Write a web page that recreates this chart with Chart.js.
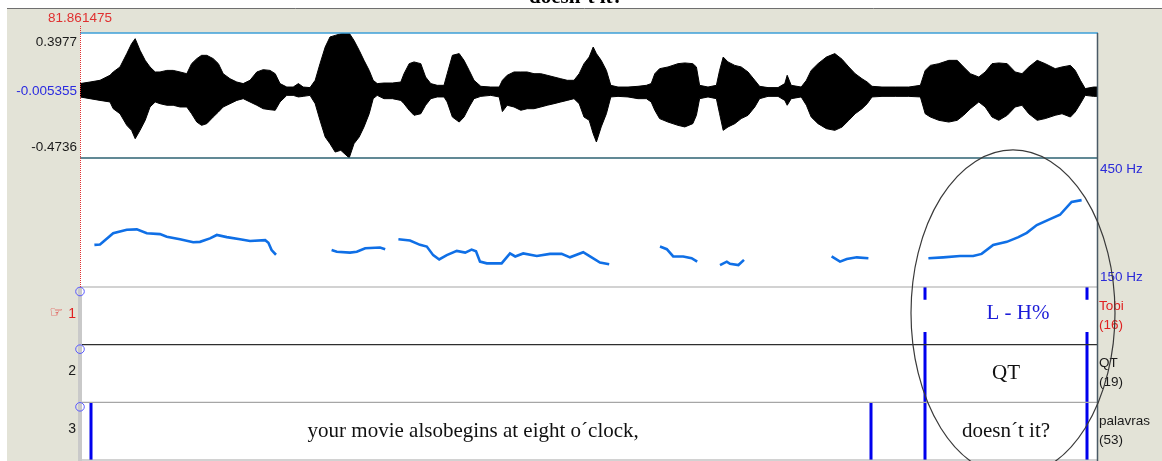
<!DOCTYPE html>
<html lang="en">
<head>
  <meta charset="UTF-8" />
  <title>doesn´t it?</title>
  <script src="https://cdn.jsdelivr.net/npm/chart.js"></script>
  <style>
    * { padding: 0; margin: 0; }
    html, body { background: #fff; width: 1162px; height: 461px; overflow: hidden; }
    #box { position: relative; width: 1162px; height: 461px; }
  </style>
</head>
<body>
<div id="box"><canvas id="praatView" width="1162" height="461"></canvas></div>
<script>
  // time window shown (s) and the cursor at its left edge
  const viewEnd = 2.545;
  const cursorLabel = '81.861475';

  // waveform amplitude range and value at cursor
  const waveMax = 0.3977;
  const waveMin = -0.4736;
  const waveCursor = -0.005355;

  // waveform envelope (time in s, upper and lower amplitude)
  const waveTime = [0.000, 0.025, 0.050, 0.075, 0.083, 0.100, 0.117, 0.129, 0.138, 0.150, 0.163, 0.175, 0.188, 0.200, 0.217, 0.233, 0.250, 0.267, 0.279, 0.292,
    0.304, 0.317, 0.333, 0.346, 0.358, 0.375, 0.392, 0.408, 0.425, 0.442, 0.458, 0.475, 0.488, 0.500, 0.517, 0.533, 0.546, 0.558, 0.575, 0.588,
    0.600, 0.613, 0.625, 0.638, 0.652, 0.673, 0.685, 0.698, 0.710, 0.723, 0.733, 0.743, 0.760, 0.781, 0.802, 0.810, 0.823, 0.835, 0.852, 0.864,
    0.877, 0.893, 0.910, 0.918, 0.931, 0.948, 0.960, 0.973, 0.985, 1.002, 1.027, 1.048, 1.056, 1.068, 1.085, 1.102, 1.118, 1.135, 1.152, 1.168,
    1.185, 1.202, 1.218, 1.235, 1.248, 1.260, 1.273, 1.283, 1.291, 1.303, 1.316, 1.327, 1.345, 1.370, 1.395, 1.416, 1.428, 1.437, 1.449, 1.470,
    1.495, 1.512, 1.532, 1.541, 1.549, 1.570, 1.591, 1.599, 1.608, 1.620, 1.637, 1.653, 1.670, 1.687, 1.699, 1.720, 1.745, 1.762, 1.768, 1.778,
    1.803, 1.816, 1.828, 1.845, 1.866, 1.887, 1.905, 1.922, 1.938, 1.955, 1.968, 1.980, 2.005, 2.038, 2.072, 2.101, 2.113, 2.126, 2.147, 2.172,
    2.193, 2.209, 2.226, 2.247, 2.263, 2.280, 2.297, 2.318, 2.338, 2.355, 2.372, 2.393, 2.413, 2.438, 2.455, 2.476, 2.488, 2.501, 2.513, 2.534, 2.545];
  const waveTop = [0.045, 0.056, 0.068, 0.103, 0.126, 0.161, 0.254, 0.323, 0.358, 0.277, 0.207, 0.161, 0.126, 0.126, 0.137, 0.137, 0.126, 0.114, 0.184, 0.219,
    0.242, 0.242, 0.219, 0.184, 0.114, 0.079, 0.056, 0.045, 0.068, 0.126, 0.142, 0.137, 0.114, 0.045, 0.021, 0.021, 0.045, 0.021, 0.017, 0.068,
    0.184, 0.300, 0.370, 0.381, 0.393, 0.397, 0.346, 0.277, 0.207, 0.137, 0.068, 0.045, 0.049, 0.049, 0.056, 0.114, 0.184, 0.196, 0.184, 0.091,
    0.045, 0.033, 0.033, 0.114, 0.242, 0.254, 0.207, 0.137, 0.068, 0.026, 0.021, 0.021, 0.068, 0.103, 0.126, 0.126, 0.126, 0.114, 0.114, 0.103,
    0.091, 0.079, 0.068, 0.068, 0.114, 0.184, 0.230, 0.300, 0.254, 0.207, 0.137, 0.033, 0.021, 0.021, 0.026, 0.033, 0.045, 0.114, 0.149, 0.161,
    0.184, 0.189, 0.184, 0.161, 0.033, 0.021, 0.033, 0.137, 0.230, 0.196, 0.172, 0.161, 0.126, 0.068, 0.026, 0.017, 0.017, 0.045, 0.103, 0.033,
    0.021, 0.068, 0.137, 0.184, 0.230, 0.254, 0.215, 0.161, 0.114, 0.079, 0.056, 0.026, 0.021, 0.021, 0.021, 0.033, 0.137, 0.172, 0.184, 0.207,
    0.207, 0.161, 0.114, 0.091, 0.126, 0.184, 0.189, 0.184, 0.126, 0.114, 0.161, 0.207, 0.184, 0.149, 0.161, 0.172, 0.137, 0.068, 0.010, 0.021, 0.021];
  const waveBottom = [-0.048, -0.060, -0.072, -0.083, -0.130, -0.165, -0.246, -0.281, -0.339, -0.281, -0.211, -0.118, -0.083, -0.095, -0.106, -0.106, -0.118, -0.118, -0.165, -0.223,
    -0.246, -0.234, -0.188, -0.153, -0.118, -0.095, -0.072, -0.060, -0.083, -0.106, -0.130, -0.137, -0.141, -0.083, -0.037, -0.037, -0.048, -0.044, -0.037, -0.095,
    -0.211, -0.327, -0.374, -0.432, -0.420, -0.473, -0.374, -0.327, -0.257, -0.165, -0.060, -0.037, -0.060, -0.060, -0.072, -0.095, -0.141, -0.176, -0.165, -0.106,
    -0.060, -0.048, -0.048, -0.083, -0.188, -0.223, -0.188, -0.118, -0.060, -0.044, -0.037, -0.048, -0.150, -0.106, -0.118, -0.141, -0.130, -0.130, -0.118, -0.106,
    -0.095, -0.083, -0.072, -0.060, -0.095, -0.188, -0.211, -0.304, -0.362, -0.257, -0.165, -0.048, -0.044, -0.048, -0.060, -0.060, -0.083, -0.141, -0.199, -0.223,
    -0.246, -0.257, -0.234, -0.176, -0.060, -0.048, -0.060, -0.165, -0.281, -0.257, -0.234, -0.199, -0.176, -0.118, -0.060, -0.044, -0.044, -0.072, -0.106, -0.060,
    -0.048, -0.106, -0.188, -0.234, -0.269, -0.281, -0.258, -0.211, -0.165, -0.130, -0.095, -0.048, -0.044, -0.044, -0.044, -0.048, -0.165, -0.188, -0.211, -0.223,
    -0.211, -0.176, -0.130, -0.083, -0.118, -0.188, -0.211, -0.176, -0.118, -0.106, -0.165, -0.211, -0.199, -0.176, -0.165, -0.188, -0.153, -0.095, -0.037, -0.044, -0.044];

  // pitch range (Hz) and contour, null = unvoiced gap
  const pitchMin = 150;
  const pitchMax = 450;
  const pitchTime = [0.036, 0.050, 0.083, 0.117, 0.142, 0.167, 0.200, 0.217, 0.250, 0.283, 0.300, 0.325, 0.342, 0.367, 0.400, 0.425, 0.463, 0.471, 0.479, 0.490, 0.560,
    0.629, 0.642, 0.675, 0.692, 0.713, 0.750, 0.763, 0.780,
    0.796, 0.825, 0.850, 0.867, 0.883, 0.898, 0.917, 0.942, 0.963, 0.979, 0.990, 1.000, 1.017, 1.054, 1.063, 1.075, 1.088, 1.108, 1.142, 1.175, 1.204, 1.225, 1.258, 1.275, 1.300, 1.323, 1.390,
    1.450, 1.467, 1.483, 1.508, 1.529, 1.543, 1.570,
    1.600, 1.617, 1.625, 1.646, 1.660, 1.770,
    1.879, 1.900, 1.917, 1.942, 1.971, 2.050,
    2.121, 2.158, 2.200, 2.233, 2.254, 2.283, 2.317, 2.346, 2.367, 2.392, 2.425, 2.450, 2.479, 2.504];
  const pitchHz = [248, 249, 275, 283, 284, 275, 273, 267, 261, 254, 255, 263, 271, 266, 261, 257, 259, 253, 236, 225, null,
    236, 232, 230, 232, 240, 242, 238, null,
    261, 258, 248, 244, 224, 214, 224, 234, 230, 237, 233, 209, 205, 205, 215, 228, 221, 228, 222, 227, 227, 219, 231, 221, 207, 203, null,
    244, 238, 221, 221, 217, 209, null,
    201, 209, 204, 201, 213, null,
    221, 209, 215, 219, 217, null,
    217, 219, 222, 222, 227, 248, 255, 266, 276, 294, 308, 318, 348, 352];

  // TextGrid tiers
  const tierNames = ['Tobi', 'QT', 'palavras'];
  const tierCounts = [16, 19, 53];
  const tobiPoints = [2.1125, 2.5175];
  const tobiLabelTime = 2.345;
  const tobiLabel = 'L - H%';
  const qtBounds = [2.1125, 2.5175];
  const qtLabels = ['QT'];
  const wordBounds = [0.0275, 1.9775, 2.1125, 2.5175];
  const wordLabels = ['your movie alsobegins at eight o´clock,', '', 'doesn´t it?'];
  const wordLabelTimes = [0.983, 2.045, 2.315];

  const PANEL = '#e3e3d7';
  const SANS = '"Liberation Sans", Arial, sans-serif';
  const SERIF = '"Liberation Serif", "Times New Roman", serif';

  function boundaryLines(times, y0, y1) {
    const pts = [];
    times.forEach(t => {
      pts.push({x: t, y: y0}, {x: t, y: y1}, {x: t, y: null});
    });
    return pts;
  }

  const tierLines = []
    .concat(boundaryLines(tobiPoints, 0, 0.22))
    .concat(boundaryLines(tobiPoints, 0.78, 1))
    .concat(boundaryLines(qtBounds, 1, 2))
    .concat(boundaryLines(wordBounds, 2, 3));

  const praatFrame = {
    id: 'praatFrame',
    beforeDraw(chart) {
      const ctx = chart.ctx;
      const a = chart.chartArea;
      ctx.save();
      ctx.fillStyle = '#fff';
      ctx.fillRect(0, 0, chart.width, chart.height);
      // cut off title at the very top
      ctx.fillStyle = '#000';
      ctx.font = 'bold 21px ' + SERIF;
      ctx.textAlign = 'center';
      ctx.textBaseline = 'alphabetic';
      ctx.fillText('doesn´t it?', 576, 3);
      ctx.fillStyle = PANEL;
      ctx.fillRect(7, 9, chart.width - 7, chart.height - 9);
      ctx.strokeStyle = '#6f6f6f';
      ctx.lineWidth = 1;
      ctx.beginPath();
      ctx.moveTo(7, 8.5);
      ctx.lineTo(chart.width, 8.5);
      ctx.stroke();
      ctx.fillStyle = '#fff';
      ctx.fillRect(a.left, a.top, a.right - a.left, a.bottom - a.top + 1);
      ctx.restore();
    },
    afterDraw(chart) {
      const ctx = chart.ctx;
      const a = chart.chartArea;
      const {x, yw, yp, yt} = chart.scales;
      ctx.save();

      // frame lines
      const hline = (y, color, x0, x1) => {
        ctx.strokeStyle = color;
        ctx.beginPath();
        ctx.moveTo(x0, y);
        ctx.lineTo(x1, y);
        ctx.stroke();
      };
      ctx.lineWidth = 1.5;
      hline(yw.top, '#3c9fd8', a.left, a.right);
      hline(yw.bottom, '#2d6272', a.left, a.right);
      ctx.lineWidth = 1.2;
      hline(yp.bottom, '#a6a6a6', a.left, a.right);
      hline(yt.getPixelForValue(1), '#2e2e2e', a.left, a.right);
      hline(yt.getPixelForValue(2), '#a6a6a6', a.left, a.right);
      hline(yt.getPixelForValue(3), '#a6a6a6', a.left, a.right);
      ctx.lineWidth = 1.5;
      ctx.strokeStyle = '#4a5a66';
      ctx.beginPath();
      ctx.moveTo(a.right - 0.5, yw.top);
      ctx.lineTo(a.right - 0.5, chart.height);
      ctx.stroke();

      // tier handle strip and circles
      ctx.fillStyle = '#c9c9c9';
      ctx.fillRect(a.left - 2, yp.bottom, 4, chart.height - yp.bottom);
      ctx.strokeStyle = '#5a5aff';
      ctx.lineWidth = 1;
      for (let i = 0; i < 3; i++) {
        ctx.beginPath();
        ctx.arc(a.left, yt.getPixelForValue(i) + 4.5, 4.3, 0, Math.PI * 2);
        ctx.stroke();
      }

      // cursor
      ctx.strokeStyle = '#e03030';
      ctx.setLineDash([1, 1]);
      ctx.beginPath();
      ctx.moveTo(a.left + 0.5, 26);
      ctx.lineTo(a.left + 0.5, yp.bottom);
      ctx.stroke();
      ctx.setLineDash([]);

      // left labels
      ctx.font = '13.5px ' + SANS;
      ctx.textBaseline = 'middle';
      ctx.textAlign = 'center';
      ctx.fillStyle = '#e03030';
      ctx.fillText(cursorLabel, a.left, 18);
      ctx.textAlign = 'right';
      ctx.fillStyle = '#1a1a1a';
      ctx.fillText(String(waveMax), a.left - 3, yw.getPixelForValue(waveMax) + 9);
      ctx.fillText(String(waveMin), a.left - 3, yw.getPixelForValue(waveMin) - 11);
      ctx.fillStyle = '#2a2ae0';
      ctx.fillText(String(waveCursor), a.left - 3, yw.getPixelForValue(waveCursor));

      // tier numbers
      ctx.font = '14px ' + SANS;
      for (let i = 0; i < 3; i++) {
        ctx.fillStyle = i === 0 ? '#e02020' : '#1a1a1a';
        ctx.fillText(String(i + 1), a.left - 4, yt.getPixelForValue(i + 0.5) - 2);
      }
      ctx.font = '15px "DejaVu Sans", sans-serif';
      ctx.fillStyle = '#e02020';
      ctx.fillText('☞', a.left - 17, yt.getPixelForValue(0.5) - 3);

      // right labels
      ctx.textAlign = 'left';
      ctx.font = '13.5px ' + SANS;
      ctx.fillStyle = '#2a2ad8';
      ctx.fillText(pitchMax + ' Hz', a.right + 2, yp.getPixelForValue(pitchMax) + 11);
      ctx.fillText(pitchMin + ' Hz', a.right + 2, yp.getPixelForValue(pitchMin) - 10);
      for (let i = 0; i < 3; i++) {
        ctx.fillStyle = i === 0 ? '#e02020' : '#1a1a1a';
        const top = yt.getPixelForValue(i);
        ctx.fillText(tierNames[i], a.right + 1, top + 19);
        ctx.fillText('(' + tierCounts[i] + ')', a.right + 1, top + 38);
      }

      // tier texts
      ctx.textAlign = 'center';
      ctx.font = '21px ' + SERIF;
      ctx.fillStyle = '#1c1cd8';
      ctx.fillText(tobiLabel, x.getPixelForValue(tobiLabelTime), yt.getPixelForValue(0.5) - 2);
      ctx.fillStyle = '#111';
      for (let i = 0; i < qtLabels.length; i++) {
        ctx.fillText(qtLabels[i], x.getPixelForValue((qtBounds[i] + qtBounds[i + 1]) / 2), yt.getPixelForValue(1.5));
      }
      for (let i = 0; i < wordLabels.length; i++) {
        ctx.fillText(wordLabels[i], x.getPixelForValue(wordLabelTimes[i]), yt.getPixelForValue(2.5));
      }

      // hand drawn ellipse around the tag question
      ctx.strokeStyle = '#3a3a3a';
      ctx.lineWidth = 1.2;
      ctx.beginPath();
      ctx.ellipse(x.getPixelForValue(2.3325), yt.getPixelForValue(0.45), 102, 163, 0, 0, Math.PI * 2);
      ctx.stroke();

      ctx.restore();
    }
  };

  const praatView = new Chart(document.getElementById('praatView'), {
    type: 'line',
    data: {
      datasets: [
        {
          label: 'upper',
          data: waveTime.map((t, i) => ({x: t, y: waveTop[i]})),
          xAxisID: 'x', yAxisID: 'yw',
          borderColor: '#000', borderWidth: 1,
          backgroundColor: '#000', fill: '+1'
        }, {
          label: 'lower',
          data: waveTime.map((t, i) => ({x: t, y: waveBottom[i]})),
          xAxisID: 'x', yAxisID: 'yw',
          borderColor: '#000', borderWidth: 1, fill: false
        }, {
          label: 'pitch',
          data: pitchTime.map((t, i) => ({x: t, y: pitchHz[i]})),
          xAxisID: 'x', yAxisID: 'yp',
          borderColor: '#0f6fe6', borderWidth: 2.6, fill: false, spanGaps: false
        }, {
          label: 'boundaries',
          data: tierLines,
          xAxisID: 'x', yAxisID: 'yt',
          borderColor: '#0000ee', borderWidth: 3, borderCapStyle: 'butt', fill: false, spanGaps: false
        }
      ]
    },
    options: {
      responsive: false,
      animation: false,
      events: [],
      layout: { padding: { left: 80, right: 64, top: 33, bottom: 1 } },
      elements: { point: { radius: 0 }, line: { tension: 0 } },
      plugins: { legend: { display: false }, tooltip: { enabled: false }, title: { display: false } },
      scales: {
        x: { type: 'linear', min: 0, max: viewEnd, display: false },
        yw: { type: 'linear', position: 'right', stack: 'praat', stackWeight: 125, weight: 1, min: waveMin, max: waveMax, display: false },
        yp: { type: 'linear', position: 'right', stack: 'praat', stackWeight: 129, weight: 2, min: pitchMin, max: pitchMax, display: false },
        yt: { type: 'linear', position: 'right', stack: 'praat', stackWeight: 173, weight: 3, min: 0, max: 3, reverse: true, display: false }
      }
    },
    plugins: [praatFrame]
  });
</script>
</body>
</html>
